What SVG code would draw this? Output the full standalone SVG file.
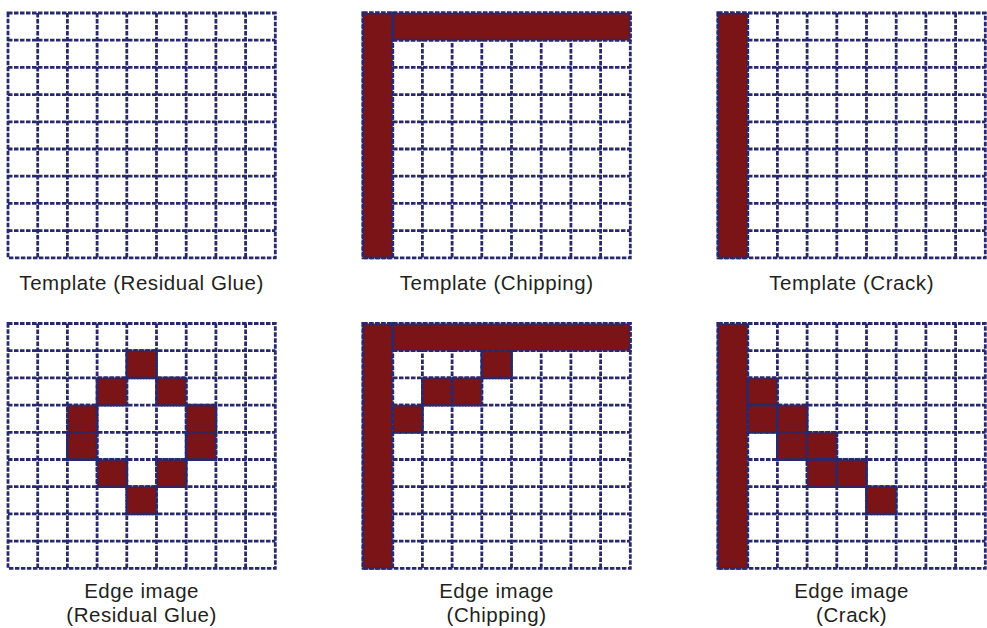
<svg xmlns="http://www.w3.org/2000/svg" xmlns:xlink="http://www.w3.org/1999/xlink" width="987" height="628" viewBox="0 0 987 628">
<style>
.ln{fill:none;stroke:#28286f;stroke-width:2.8;stroke-dasharray:4.5 1.5;}
.red{fill:#7b1416;stroke:#28286f;stroke-width:2.8;stroke-dasharray:4.5 1.5;}
.lbl{font-family:"Liberation Sans",Arial,sans-serif;font-size:20.5px;fill:#231f20;text-anchor:middle;letter-spacing:0.55px;}
</style>
<defs>
<path id="grid" class="ln" d="M0 0H267.3V244.8H0Z M29.7 0V244.8 M59.4 0V244.8 M89.1 0V244.8 M118.8 0V244.8 M148.5 0V244.8 M178.2 0V244.8 M207.9 0V244.8 M237.6 0V244.8 M0 27.2H267.3 M0 54.4H267.3 M0 81.6H267.3 M0 108.8H267.3 M0 136H267.3 M0 163.2H267.3 M0 190.4H267.3 M0 217.6H267.3"/>
<rect id="cell" class="red" width="29.7" height="27.2"/>
</defs>
<rect width="987" height="628" fill="#ffffff"/>
<g id="template-glue" transform="translate(8,13)">
<rect width="267.3" height="244.8" fill="#fff"/>
<use xlink:href="#grid" href="#grid"/>
<text class="lbl" x="133.6" y="276.5">Template (Residual Glue)</text>
</g>
<g id="template-chipping" transform="translate(363,13)">
<rect width="267.3" height="244.8" fill="#fff"/>
<use xlink:href="#grid" href="#grid"/>
<rect class="red" x="29.7" y="0" width="237.6" height="27.2"/>
<rect class="red" x="0" y="0" width="29.7" height="244.8"/>
<text class="lbl" x="133.6" y="276.5">Template (Chipping)</text>
</g>
<g id="template-crack" transform="translate(718,13)">
<rect width="267.3" height="244.8" fill="#fff"/>
<use xlink:href="#grid" href="#grid"/>
<rect class="red" x="0" y="0" width="29.7" height="244.8"/>
<text class="lbl" x="133.6" y="276.5">Template (Crack)</text>
</g>
<g id="edge-glue" transform="translate(8,323.5)">
<rect width="267.3" height="244.8" fill="#fff"/>
<use xlink:href="#grid" href="#grid"/>
<use xlink:href="#cell" href="#cell" x="118.8" y="27.2"/>
<use xlink:href="#cell" href="#cell" x="89.1" y="54.4"/>
<use xlink:href="#cell" href="#cell" x="148.5" y="54.4"/>
<use xlink:href="#cell" href="#cell" x="59.4" y="81.6"/>
<use xlink:href="#cell" href="#cell" x="178.2" y="81.6"/>
<use xlink:href="#cell" href="#cell" x="59.4" y="108.8"/>
<use xlink:href="#cell" href="#cell" x="178.2" y="108.8"/>
<use xlink:href="#cell" href="#cell" x="89.1" y="136"/>
<use xlink:href="#cell" href="#cell" x="148.5" y="136"/>
<use xlink:href="#cell" href="#cell" x="118.8" y="163.2"/>
<text class="lbl" x="133.6" y="274">Edge image</text>
<text class="lbl" x="133.6" y="298.5">(Residual Glue)</text>
</g>
<g id="edge-chipping" transform="translate(363,323.5)">
<rect width="267.3" height="244.8" fill="#fff"/>
<use xlink:href="#grid" href="#grid"/>
<rect class="red" x="29.7" y="0" width="237.6" height="27.2"/>
<rect class="red" x="0" y="0" width="29.7" height="244.8"/>
<use xlink:href="#cell" href="#cell" x="118.8" y="27.2"/>
<use xlink:href="#cell" href="#cell" x="59.4" y="54.4"/>
<use xlink:href="#cell" href="#cell" x="89.1" y="54.4"/>
<use xlink:href="#cell" href="#cell" x="29.7" y="81.6"/>
<text class="lbl" x="133.6" y="274">Edge image</text>
<text class="lbl" x="133.6" y="298.5">(Chipping)</text>
</g>
<g id="edge-crack" transform="translate(718,323.5)">
<rect width="267.3" height="244.8" fill="#fff"/>
<use xlink:href="#grid" href="#grid"/>
<rect class="red" x="0" y="0" width="29.7" height="244.8"/>
<use xlink:href="#cell" href="#cell" x="29.7" y="54.4"/>
<use xlink:href="#cell" href="#cell" x="29.7" y="81.6"/>
<use xlink:href="#cell" href="#cell" x="59.4" y="81.6"/>
<use xlink:href="#cell" href="#cell" x="59.4" y="108.8"/>
<use xlink:href="#cell" href="#cell" x="89.1" y="108.8"/>
<use xlink:href="#cell" href="#cell" x="89.1" y="136"/>
<use xlink:href="#cell" href="#cell" x="118.8" y="136"/>
<use xlink:href="#cell" href="#cell" x="148.5" y="163.2"/>
<text class="lbl" x="133.6" y="274">Edge image</text>
<text class="lbl" x="133.6" y="298.5">(Crack)</text>
</g>
<g id="connectors"></g>
</svg>
